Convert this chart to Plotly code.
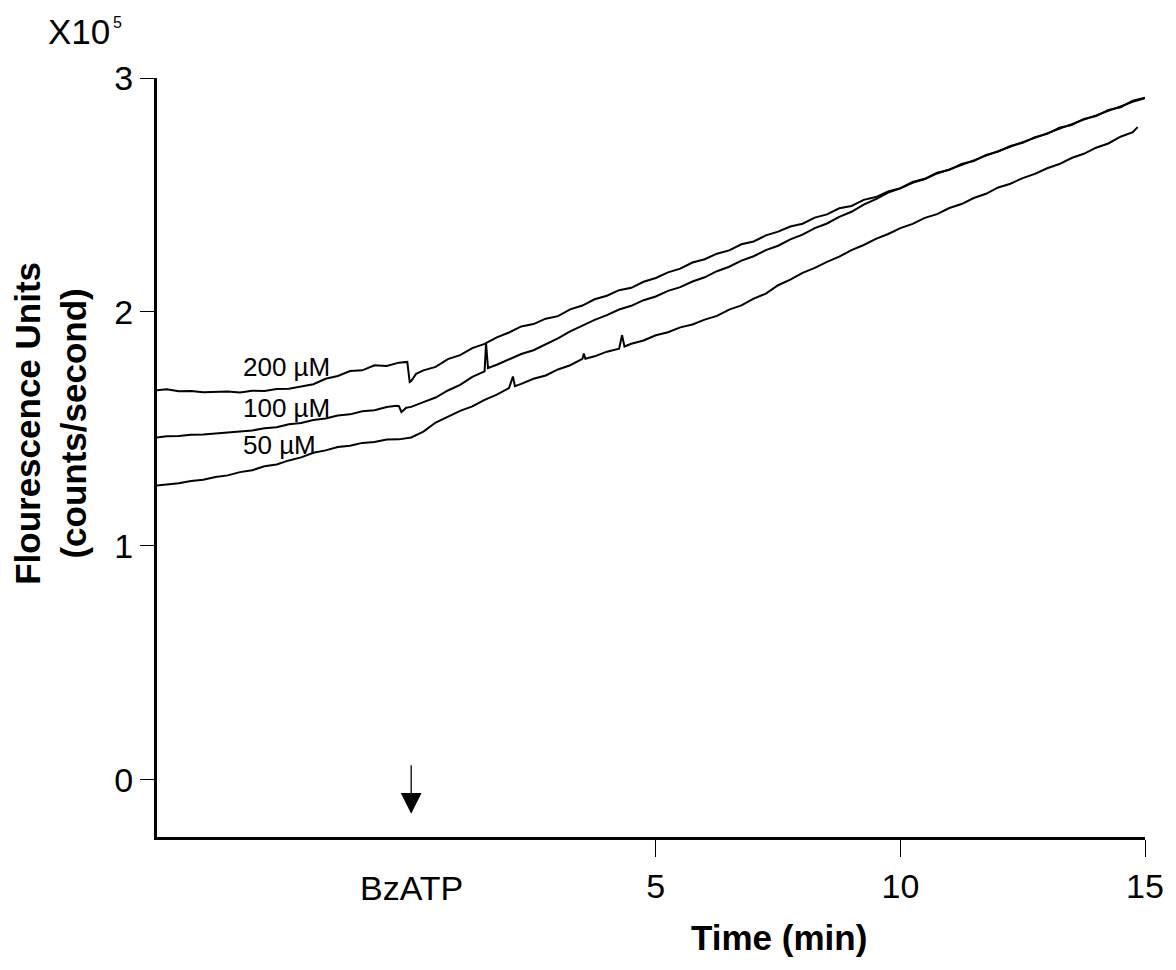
import plotly.graph_objects as go

# ---- data (time in min, fluorescence in units of 10^5 counts/s) ----
T = [-5.2, -5.0, -4.75, -4.5, -4.25, -4.0, -3.75, -3.5, -3.25, -3.0, -2.75, -2.5,
     -2.25, -2.0, -1.75, -1.5, -1.25, -1.0, -0.75, -0.5, -0.25, 0.0, 0.25, 0.5,
     0.75, 1.0, 1.25, 1.5, 1.75, 2.0, 2.25, 2.5, 2.75, 3.0, 3.25, 3.5, 3.75, 4.0,
     4.25, 4.5, 4.75, 5.0, 5.25, 5.5, 5.75, 6.0, 6.25, 6.5, 6.75, 7.0, 7.25, 7.5,
     7.75, 8.0, 8.25, 8.5, 8.75, 9.0, 9.25, 9.5, 9.75, 10.0, 10.25, 10.5, 10.75,
     11.0, 11.25, 11.5, 11.75, 12.0, 12.25, 12.5, 12.75, 13.0, 13.25, 13.5, 13.75,
     14.0, 14.25, 14.5, 14.75, 15.0]

uM200 = [1.665, 1.669, 1.661, 1.662, 1.656, 1.657, 1.660, 1.655, 1.663, 1.662, 1.670, 1.671,
         1.682, 1.691, 1.714, 1.726, 1.747, 1.750, 1.772, 1.769, 1.783, 1.704, 1.750, 1.765,
         1.798, 1.815, 1.845, 1.863, 1.891, 1.912, 1.938, 1.948, 1.971, 1.982, 2.011, 2.027,
         2.054, 2.069, 2.093, 2.103, 2.129, 2.145, 2.169, 2.185, 2.211, 2.225, 2.249, 2.263,
         2.289, 2.301, 2.327, 2.343, 2.365, 2.377, 2.403, 2.417, 2.443, 2.453, 2.479, 2.491,
         2.515, 2.529, 2.556, 2.569, 2.595, 2.607, 2.633, 2.645, 2.671, 2.685, 2.709, 2.723,
         2.747, 2.761, 2.787, 2.799, 2.825, 2.837, 2.863, 2.875, 2.903, 2.916]
uM200_extra = [(-0.08, 1.786), (-0.03, 1.700), (0.1, 1.735)]

uM100 = [1.463, 1.468, 1.469, 1.475, 1.476, 1.481, 1.483, 1.491, 1.493, 1.503, 1.507, 1.520,
         1.525, 1.538, 1.544, 1.557, 1.562, 1.575, 1.580, 1.593, 1.597, 1.594, 1.614, 1.634,
         1.664, 1.688, 1.722, 1.746, 1.774, 1.796, 1.820, 1.836, 1.862, 1.887, 1.917, 1.942,
         1.966, 1.986, 2.010, 2.026, 2.050, 2.066, 2.090, 2.106, 2.130, 2.148, 2.174, 2.193,
         2.219, 2.238, 2.264, 2.283, 2.310, 2.330, 2.358, 2.378, 2.406, 2.428, 2.459, 2.482,
         2.510, 2.528, 2.552, 2.568, 2.592, 2.609, 2.630, 2.648, 2.668, 2.688, 2.706, 2.726,
         2.744, 2.764, 2.784, 2.802, 2.822, 2.840, 2.860, 2.880, 2.898, 2.914]
uM100_extra = [(-0.3, 1.599), (-0.2, 1.572), (-0.1, 1.590), (1.53, 1.866), (1.57, 1.760)]

uM50 = [1.258, 1.263, 1.267, 1.277, 1.282, 1.294, 1.301, 1.315, 1.323, 1.340, 1.348, 1.365,
        1.378, 1.398, 1.408, 1.422, 1.428, 1.440, 1.444, 1.454, 1.455, 1.463, 1.488, 1.527,
        1.551, 1.577, 1.596, 1.624, 1.646, 1.674, 1.692, 1.714, 1.728, 1.754, 1.772, 1.799,
        1.810, 1.830, 1.843, 1.864, 1.878, 1.900, 1.913, 1.934, 1.946, 1.967, 1.983, 2.010,
        2.028, 2.057, 2.078, 2.114, 2.138, 2.167, 2.188, 2.214, 2.236, 2.264, 2.286, 2.312,
        2.333, 2.358, 2.376, 2.402, 2.418, 2.444, 2.461, 2.487, 2.505, 2.532, 2.548, 2.572,
        2.590, 2.614, 2.632, 2.658, 2.676, 2.702, 2.720, 2.749, 2.768, None]
uM50_extra = [(2.08, 1.724), (2.12, 1.682), (3.53, 1.822), (3.56, 1.800),
              (4.31, 1.900), (4.36, 1.852), (14.85, 2.790)]

x_ticks = [5, 10, 15]
x_ticklabels = ["5", "10", "15"]
y_ticks = [0, 1, 2, 3]
y_ticklabels = ["0", "1", "2", "3"]
series_labels = ["200 µM", "100 µM", "50 µM"]
label_pos = [(-3.47, 1.763), (-3.47, 1.588), (-3.47, 1.433)]

FONT = "Liberation Sans, Arial, Helvetica, sans-serif"


def merged(grid, vals, extra):
    pts = [(t, v) for t, v in zip(grid, vals) if v is not None] + list(extra)
    pts.sort(key=lambda p: p[0])
    return [p[0] for p in pts], [p[1] for p in pts]


fig = go.Figure()
for vals, extra in [(uM200, uM200_extra), (uM100, uM100_extra), (uM50, uM50_extra)]:
    xs, ys = merged(T, vals, extra)
    fig.add_trace(go.Scatter(x=xs, y=ys, mode="lines",
                             line=dict(color="black", width=2),
                             hoverinfo="skip"))

annotations = []
for lab, (lx, ly) in zip(series_labels, label_pos):
    annotations.append(dict(x=lx, y=ly, xref="x", yref="y", text=lab, showarrow=False,
                            xanchor="left", yanchor="middle",
                            font=dict(family=FONT, size=26, color="black")))

# BzATP marker label and arrow
annotations.append(dict(x=0, y=-0.0672, xref="x", yref="paper", text="BzATP", showarrow=False,
                        xanchor="center", yanchor="middle",
                        font=dict(family=FONT, size=34, color="black")))
annotations.append(dict(x=0, y=-0.1455, xref="x", yref="y", text="", showarrow=True,
                        ax=0, ay=-50, axref="pixel", ayref="pixel",
                        arrowhead=2, arrowsize=3.2, arrowwidth=1.3, arrowcolor="black",
                        standoff=0))

# scale label
annotations.append(dict(x=-0.1128, y=1.0619, xref="paper", yref="paper", text="X10",
                        showarrow=False, xanchor="left", yanchor="middle",
                        font=dict(family=FONT, size=35, color="black")))
annotations.append(dict(x=-0.0468, y=1.0725, xref="paper", yref="paper", text="5",
                        showarrow=False, xanchor="left", yanchor="middle",
                        font=dict(family=FONT, size=16, color="black")))

# axis titles
annotations.append(dict(x=-0.1078, y=0.545, xref="paper", yref="paper",
                        text="<b>Flourescence Units</b><br><b>(counts/second)</b>",
                        showarrow=False, textangle=-90, xanchor="center", yanchor="middle",
                        font=dict(family=FONT, size=35, color="black")))
annotations.append(dict(x=0.630, y=-0.133, xref="paper", yref="paper",
                        text="<b>Time (min)</b>", showarrow=False,
                        xanchor="center", yanchor="middle",
                        font=dict(family=FONT, size=35, color="black")))

# page body adds an 8 px margin, so the figure is shifted by that amount
fig.update_layout(
    width=1168, height=962,
    margin=dict(l=149, r=25, t=70, b=133),
    plot_bgcolor="white", paper_bgcolor="white",
    showlegend=False,
    annotations=annotations,
    xaxis=dict(range=[-5.196, 15.0], tickvals=x_ticks, ticktext=x_ticklabels,
               ticks="outside", ticklen=17, tickwidth=1.3, tickcolor="black",
               showline=True, linewidth=3, linecolor="black",
               showgrid=False, zeroline=False,
               tickfont=dict(family=FONT, size=34, color="black")),
    yaxis=dict(range=[-0.245, 3.0], tickvals=y_ticks, ticktext=y_ticklabels,
               ticks="outside", ticklen=14, tickwidth=1.3, tickcolor="black",
               showline=True, linewidth=3, linecolor="black",
               showgrid=False, zeroline=False,
               tickfont=dict(family=FONT, size=34, color="black")),
)

fig.write_html("out.html")
